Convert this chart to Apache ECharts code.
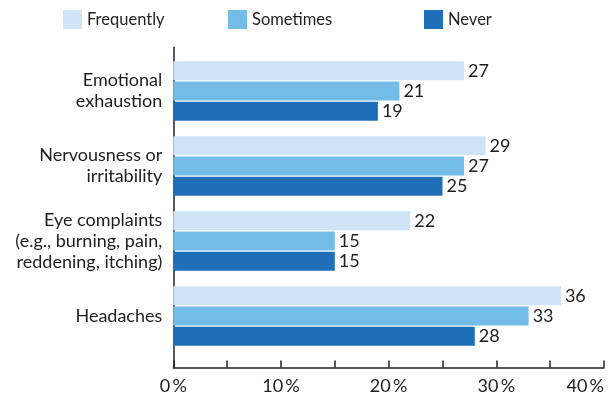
<!DOCTYPE html>
<html>
<head>
<meta charset="utf-8">
<script src="https://cdn.jsdelivr.net/npm/echarts@6/dist/echarts.min.js"></script>
<style>
  html, body { margin: 0; padding: 0; background: #fff; }
  #chart { width: 614px; height: 400px; }
</style>
</head>
<body>
<div id="chart"></div>
<script>
// Symptom categories, listed top to bottom
const categories = [
  'Emotional\nexhaustion',
  'Nervousness or\nirritability',
  'Eye complaints\n(e.g., burning, pain,\nreddening, itching)',
  'Headaches'
];
const seriesNames = ['Frequently', 'Sometimes', 'Never'];
// Percentages per category
const frequently = [27, 29, 22, 36];
const sometimes  = [21, 27, 15, 33];
const never      = [19, 25, 15, 28];
const tickValues = [0, 10, 20, 30, 40];

const colors = ['#cfe4f7', '#74bce8', '#1e6fb8'];
const FONT = 'Lato, "Noto Sans", sans-serif';
const TEXT = '#1e1e1e';

const chart = echarts.init(document.getElementById('chart'), null, { renderer: 'canvas' });

function makeSeries(name, data, i) {
  return {
    name: name,
    type: 'bar',
    xAxisIndex: 0,
    yAxisIndex: 0,
    data: data,
    barWidth: 19,
    barGap: '6%',
    itemStyle: { color: colors[i] },
    label: {
      show: true,
      position: 'right',
      distance: 4,
      fontFamily: FONT,
      fontSize: 18,
      color: TEXT
    },
    emphasis: { disabled: true },
    animation: false
  };
}

// One legend per series, each in its own column
const legendLefts = [63, 228, 424];

chart.setOption({
  animation: false,
  legend: seriesNames.map((n, i) => ({
    data: [n],
    left: legendLefts[i],
    top: 10,
    padding: 0,
    itemWidth: 19,
    itemHeight: 19,
    selectedMode: false,
    icon: 'rect',
    textStyle: { fontFamily: FONT, fontSize: 16.5, color: TEXT }
  })),
  grid: [
    { left: 173.3, right: 10, top: 53.5, height: 300, outerBoundsMode: 'none', containLabel: false },
    { left: 173.3, width: 1, top: 47.3, height: 320.4, outerBoundsMode: 'none', containLabel: false }
  ],
  xAxis: [
    {
      gridIndex: 0,
      type: 'value',
      min: 0,
      max: 40,
      interval: 5,
      offset: 14,
      axisLine: { show: true, lineStyle: { color: '#222', width: 1.5 } },
      axisTick: { show: true, inside: true, length: 7, lineStyle: { color: '#222', width: 1.5 } },
      splitLine: { show: false },
      axisLabel: {
        margin: 10,
        fontFamily: FONT,
        fontSize: 18,
        color: TEXT,
        alignMaxLabel: 'right',
        formatter: v => tickValues.indexOf(v) >= 0 ? v + '\u2009%' : ''
      }
    },
    { gridIndex: 1, type: 'value', show: false }
  ],
  yAxis: [
    {
      gridIndex: 0,
      type: 'category',
      data: categories,
      inverse: true,
      axisLine: { show: false },
      axisTick: { show: false },
      axisLabel: {
        margin: 11,
        fontFamily: FONT,
        fontSize: 18,
        lineHeight: 21,
        color: TEXT,
        align: 'right'
      }
    },
    {
      gridIndex: 1,
      type: 'value',
      axisLine: { show: true, lineStyle: { color: '#222', width: 1.5 } },
      axisTick: { show: false },
      axisLabel: { show: false },
      splitLine: { show: false }
    }
  ],
  series: [
    makeSeries(seriesNames[0], frequently, 0),
    makeSeries(seriesNames[1], sometimes, 1),
    makeSeries(seriesNames[2], never, 2)
  ]
});
</script>
</body>
</html>
